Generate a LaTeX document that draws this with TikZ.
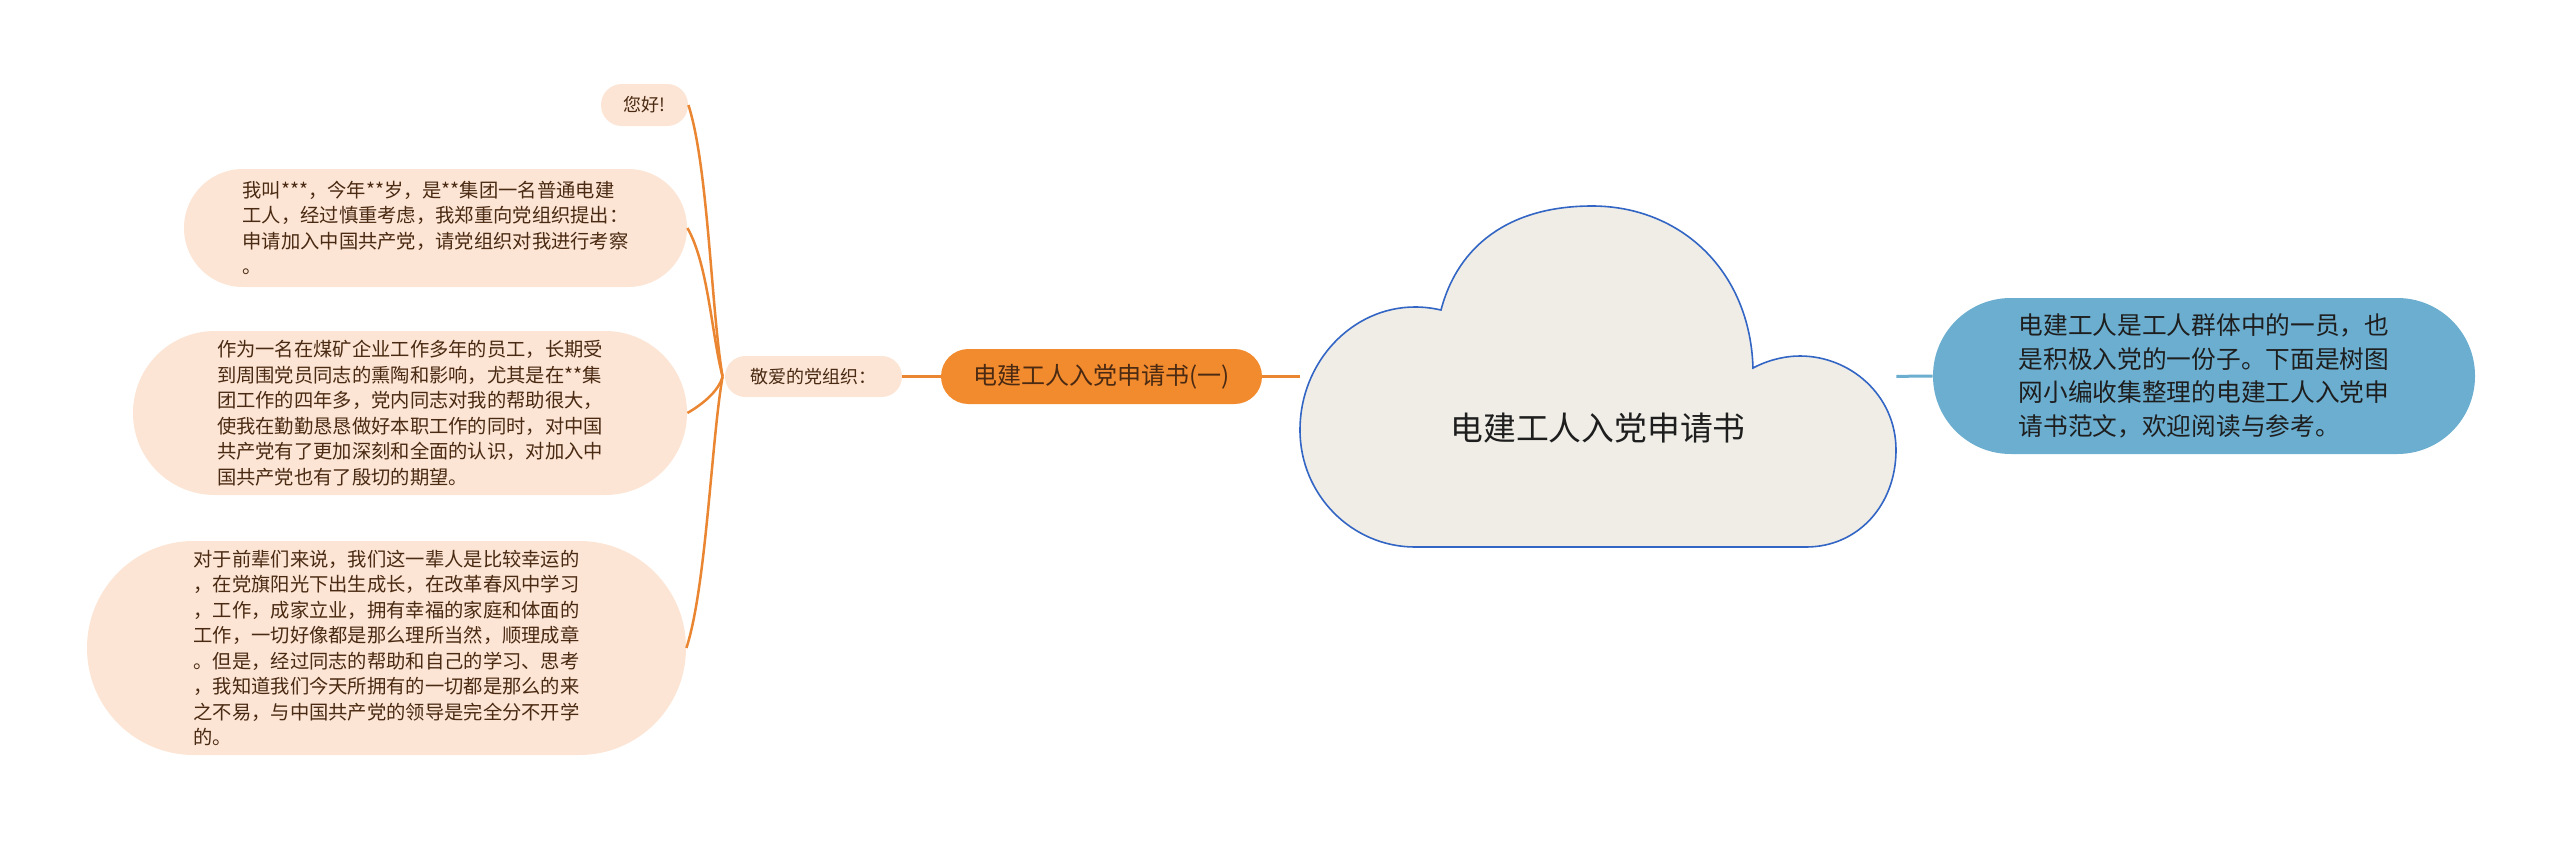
\documentclass[tikz,border=0pt]{standalone}
\usepackage{fontspec}
\setmainfont{Noto Sans CJK SC}
\usetikzlibrary{calc}
\definecolor{peach}{HTML}{FCE5D5}
\definecolor{brtext}{HTML}{4A2A12}
\definecolor{orangefill}{HTML}{F28A2E}
\definecolor{linecol}{HTML}{EA8632}
\definecolor{bluefill}{HTML}{6BAED0}
\definecolor{cloudfill}{HTML}{EFEDE6}
\definecolor{cloudline}{HTML}{3366C4}
\definecolor{darktext}{HTML}{1E1E1E}
\begin{document}
\begin{tikzpicture}[x=0.5pt,y=-0.5pt,
  detail/.style={rectangle, fill=peach, text=brtext, align=left, inner sep=0pt,
    font=\fontsize{9.65pt}{12.75pt}\selectfont},
  smallbox/.style={rectangle, fill=peach, text=brtext, inner sep=0pt,
    font=\fontsize{9pt}{11pt}\selectfont},
  subbox/.style={rectangle, fill=orangefill, text=brtext, inner sep=0pt,
    font=\fontsize{12pt}{14pt}\selectfont},
  rightbox/.style={rectangle, fill=bluefill, text=darktext, align=left, inner sep=0pt,
    font=\fontsize{12.35pt}{16.85pt}\selectfont},
  branch/.style={draw=linecol, line width=1.25pt},
  trunk/.style={draw=linecol, line width=1.5pt},
  bluetrunk/.style={draw=bluefill, line width=1.5pt}
]
\useasboundingbox (0,0) rectangle (2560,841);

% cloud shape
\draw[fill=cloudfill, draw=cloudline, line width=0.8pt]
  (1415,547) -- (1806,547)
  .. controls (1858,547) and (1896,505) .. (1896,450)
  .. controls (1896,395) and (1850,356) .. (1800,356)
  .. controls (1785,356) and (1768,360) .. (1753,368)
  .. controls (1750,270) and (1680,206) .. (1592,206)
  .. controls (1510,206) and (1458,245) .. (1441,310)
  .. controls (1432,308) and (1424,307) .. (1415,307)
  .. controls (1352,307) and (1300,362) .. (1300,430)
  .. controls (1300,495) and (1352,547) .. (1415,547) -- cycle;
\node[rectangle, inner sep=0pt, minimum width=298pt, minimum height=170.5pt] (cloud) at (1598,376.5) {};
\node[text=darktext, font=\fontsize{16.4pt}{19pt}\selectfont, inner sep=0pt] (cloudlabel) at (1598,428) {电建工人入党申请书};

% right node
\node[rightbox, rounded corners=38.9pt, minimum width=271pt, minimum height=78pt] (right) at (2204,376)
  {电建工人是工人群体中的一员，也\\是积极入党的一份子。下面是树图\\网小编收集整理的电建工人入党申\\请书范文，欢迎阅读与参考。};

% left main branch
\node[subbox, rounded corners=13.7pt, minimum width=160.5pt, minimum height=27.5pt] (sub1) at (1101.5,376.5) {电建工人入党申请书(一)};
\node[smallbox, rounded corners=10.2pt, minimum width=88.5pt, minimum height=20.5pt] (jingai) at (813.5,376.5) {敬爱的党组织：};
\coordinate (J) at ($(jingai.west)+(-2,0)$);

\node[smallbox, rounded corners=10.4pt, minimum width=43.5pt, minimum height=21pt] (hello) at (644.5,105) {您好!};
\node[detail, rounded corners=29.4pt, minimum width=251.5pt, minimum height=59pt] (b2) at (435.5,228)
  {我叫***，今年**岁，是**集团一名普通电建\\工人，经过慎重考虑，我郑重向党组织提出：\\申请加入中国共产党，请党组织对我进行考察\\。};
\node[detail, rounded corners=40.9pt, minimum width=277pt, minimum height=82pt] (b3) at (410,413)
  {作为一名在煤矿企业工作多年的员工，长期受\\到周围党员同志的熏陶和影响，尤其是在**集\\团工作的四年多，党内同志对我的帮助很大，\\使我在勤勤恳恳做好本职工作的同时，对中国\\共产党有了更加深刻和全面的认识，对加入中\\国共产党也有了殷切的期望。};
\node[detail, rounded corners=53.4pt, minimum width=299.5pt, minimum height=107pt] (b4) at (386.5,648)
  {对于前辈们来说，我们这一辈人是比较幸运的\\，在党旗阳光下出生成长，在改革春风中学习\\，工作，成家立业，拥有幸福的家庭和体面的\\工作，一切好像都是那么理所当然，顺理成章\\。但是，经过同志的帮助和自己的学习、思考\\，我知道我们今天所拥有的一切都是那么的来\\之不易，与中国共产党的领导是完全分不开学\\的。};

% connectors
\draw[trunk] (sub1) -- (cloud);
\draw[bluetrunk] (cloud) -- (right);
\draw[trunk] (jingai) -- (sub1);
\draw[branch] (hello.east) to[out=-72,in=100,looseness=0.6] (J);
\draw[branch] (b2.east) to[out=-60,in=105,looseness=0.7] (J);
\draw[branch] (b3.east) to[out=30,in=-105,looseness=0.8] (J);
\draw[branch] (b4.east) to[out=72,in=-100,looseness=0.6] (J);
\end{tikzpicture}
\end{document}
